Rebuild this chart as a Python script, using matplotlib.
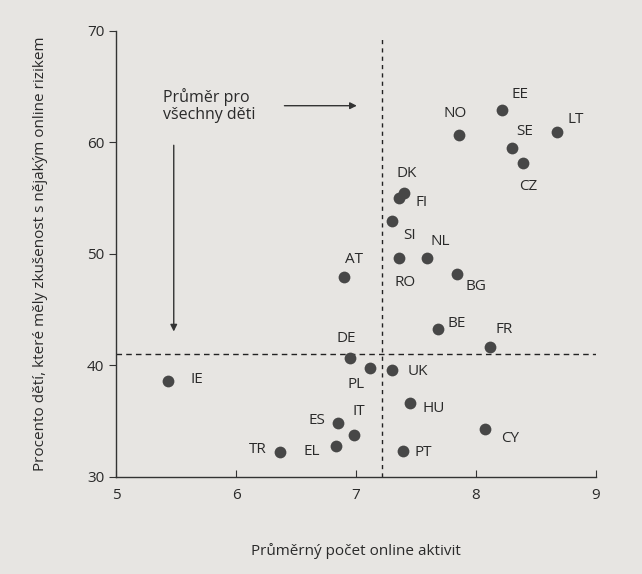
import matplotlib.pyplot as plt

# data
countries = ["EE", "NO", "LT", "SE", "CZ", "DK", "FI", "SI", "RO", "NL", "AT", "BG",
             "BE", "FR", "DE", "PL", "UK", "IE", "HU", "ES", "IT", "CY", "EL", "TR", "PT"]
activities = [8.22, 7.86, 8.68, 8.30, 8.39, 7.40, 7.36, 7.30, 7.36, 7.59, 6.90, 7.84,
              7.68, 8.12, 6.95, 7.12, 7.30, 5.43, 7.45, 6.85, 6.98, 8.08, 6.83, 6.37, 7.39]
risk_pct = [62.9, 60.7, 60.9, 59.5, 58.2, 55.5, 55.0, 53.0, 49.6, 49.6, 47.9, 48.2,
            43.3, 41.7, 40.7, 39.8, 39.6, 38.6, 36.6, 34.8, 33.8, 34.3, 32.8, 32.2, 32.3]
# label offsets in points
offsets = {"EE": (13, 11), "NO": (-3, 15), "LT": (13, 9), "SE": (9, 12), "CZ": (4, -17),
           "DK": (2, 14), "FI": (16, -3), "SI": (13, -11), "RO": (4, -17), "NL": (10, 12),
           "AT": (7, 13), "BG": (14, -9), "BE": (14, 4), "FR": (10, 12), "DE": (-3, 14),
           "PL": (-10, -12), "UK": (19, -1), "IE": (21, 1), "HU": (17, -4), "ES": (-15, 2),
           "IT": (4, 17), "CY": (18, -7), "EL": (-17, -4), "TR": (-16, 2), "PT": (15, -1)}
mean_x = 7.22
mean_y = 41.0

plt.rcParams['font.family'] = ['Open Sans', 'DejaVu Sans']
txt = '#2a2a2a'
bg = '#e7e5e2'
fs = 11

fig = plt.figure(figsize=(6.42, 5.74), dpi=100, facecolor=bg)
ax = fig.add_axes([0.181, 0.169, 0.747, 0.777], facecolor=bg)

ax.scatter(activities, risk_pct, s=72, color='#474747', zorder=3, linewidths=0)
for c, x, y in zip(countries, activities, risk_pct):
    ax.annotate(c, (x, y), xytext=offsets[c], textcoords='offset points',
                ha='center', va='center', fontsize=fs, color=txt)

ax.axvline(mean_x, ymin=0, ymax=0.985, color='#222222', lw=1, ls=(0, (3, 3)))
ax.axhline(mean_y, color='#222222', lw=1, ls=(0, (4, 3)))

ax.text(5.39, 64.9, "Průměr pro\nvšechny děti", fontsize=11.5, color=txt, va='top',
        linespacing=1.1)
ax.annotate("", xy=(7.03, 63.3), xytext=(6.38, 63.3),
            arrowprops=dict(arrowstyle='-|>', color='#333333', lw=1, mutation_scale=10))
ax.annotate("", xy=(5.48, 42.8), xytext=(5.48, 60.0),
            arrowprops=dict(arrowstyle='-|>', color='#333333', lw=1, mutation_scale=10))

ax.set_xlim(5, 9)
ax.set_ylim(30, 70)
ax.set_xticks([5, 6, 7, 8, 9])
ax.set_yticks([30, 40, 50, 60, 70])
ax.spines['top'].set_visible(False)
ax.spines['right'].set_visible(False)
for s in ['left', 'bottom']:
    ax.spines[s].set_color('#333333')
    ax.spines[s].set_linewidth(1)
ax.tick_params(axis='y', direction='out', length=5, color='#333333', labelsize=fs,
               labelcolor=txt)
ax.tick_params(axis='x', direction='in', length=5, color='#333333', labelsize=fs,
               labelcolor=txt, pad=8)

ax.set_xlabel("Průměrný počet online aktivit", fontsize=fs, color=txt, labelpad=29)
ax.set_ylabel("Procento dětí, které měly zkušenost s nějakým online rizikem",
              fontsize=fs, color=txt, labelpad=28)

fig.savefig("out.png", dpi=100, facecolor=bg)
